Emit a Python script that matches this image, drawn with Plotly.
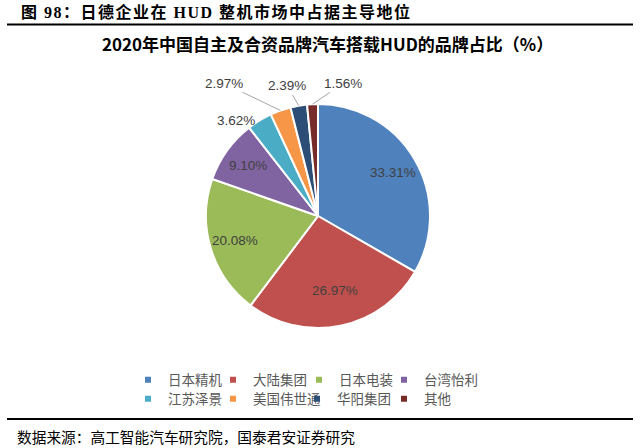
import math
import plotly.graph_objects as go

brands = ["日本精机", "大陆集团", "日本电装", "台湾怡利", "江苏泽景", "美国伟世通", "华阳集团", "其他"]
shares = [33.31, 26.97, 20.08, 9.10, 3.62, 2.97, 2.39, 1.56]
colors = ["#4F81BD", "#C0504D", "#9BBB59", "#8064A2", "#4BACC6", "#F79646", "#2C4D75", "#772C2A"]

header = "图 98：日德企业在 HUD 整机市场中占据主导地位"
title = "2020年中国自主及合资品牌汽车搭载HUD的品牌占比（%）"
source = "数据来源：高工智能汽车研究院，国泰君安证券研究"

# ---- style / layout constants (pixels) ----
W, H = 640, 448
cx, cy, r = 318, 216, 112
inside_frac = 0.77
# outside-label placement: (dx, dy, leader line?)
outside_style = {4: (-23.6, -9.7, False), 5: (-56.7, -27.2, True),
                 6: (-11.4, -19.7, True), 7: (30.8, -20.8, True)}
legend_text_x = [[168, 253, 339, 424], [168, 253, 337, 424]]
legend_row_y = [380, 399]
LABEL_FONT = dict(family="Liberation Sans, Arial", size=13.5, color="#404040")

fig = go.Figure(go.Pie(
    labels=brands,
    values=shares,
    textinfo="none",
    sort=False,
    direction="clockwise",
    rotation=0,
    marker=dict(colors=colors, line=dict(color="white", width=2)),
    domain=dict(x=[(cx - r) / W, (cx + r) / W], y=[(H - cy - r) / H, (H - cy + r) / H]),
    showlegend=False,
    hoverinfo="label+percent",
))

# legend entries (one small legend per entry so the grid matches the original)
legends = {}
for i, (b, c) in enumerate(zip(brands, colors)):
    key = "legend" if i == 0 else f"legend{i + 1}"
    row, col = divmod(i, 4)
    fig.add_trace(go.Scatter(
        x=[None], y=[None], mode="markers", name=b,
        marker=dict(symbol="square", size=6, color=c),
        legend=key, showlegend=True, hoverinfo="skip",
    ))
    legends[key] = dict(
        x=(legend_text_x[row][col] - 40) / W, xanchor="left",
        y=1 - legend_row_y[row] / H, yanchor="middle",
        bgcolor="rgba(0,0,0,0)", borderwidth=0, itemwidth=30,
        font=dict(size=13.5, color="#595959", family="Noto Sans CJK SC, sans-serif"),
    )

annotations = [
    dict(text="<span style='letter-spacing:1.5px'>" + header + "</span>",
         x=19 / W, y=1 - 12 / H, xref="paper", yref="paper",
         xanchor="left", yanchor="middle", showarrow=False,
         font=dict(size=16, color="black", family="Liberation Serif, Noto Sans CJK SC", weight="bold")),
    dict(text=title, x=327 / W, y=1 - 43 / H, xref="paper", yref="paper",
         xanchor="center", yanchor="middle", showarrow=False,
         font=dict(size=17, color="black", family="Noto Sans CJK SC", weight=600)),
    dict(text=source, x=15 / W, y=1 - 436 / H, xref="paper", yref="paper",
         xanchor="left", yanchor="middle", showarrow=False,
         font=dict(size=14.7, color="black", family="Noto Sans CJK SC")),
]

total = sum(shares)
cum = 0.0
for i, v in enumerate(shares):
    mid = (cum + v / 2) / total * 2 * math.pi
    cum += v
    label = f"{v:.2f}%"
    if i not in outside_style:
        px = cx + inside_frac * r * math.sin(mid)
        py = cy - inside_frac * r * math.cos(mid)
        annotations.append(dict(text=label, x=px / W, y=1 - py / H, xref="paper", yref="paper",
                                showarrow=False, font=LABEL_FONT))
        continue
    px = cx + r * math.sin(mid)
    py = cy - r * math.cos(mid)
    dx, dy, line = outside_style[i]
    if line:
        annotations.append(dict(
            text=label, x=px / W, y=1 - py / H, xref="paper", yref="paper",
            ax=dx, ay=dy, axref="pixel", ayref="pixel",
            showarrow=True, arrowhead=0, arrowwidth=1, arrowcolor="#A6A6A6", standoff=0,
            font=LABEL_FONT))
    else:
        annotations.append(dict(
            text=label, x=px / W, y=1 - py / H, xref="paper", yref="paper",
            xshift=dx, yshift=-dy, showarrow=False, font=LABEL_FONT))

fig.update_layout(
    width=W, height=H,
    margin=dict(l=0, r=0, t=0, b=0),
    paper_bgcolor="white",
    plot_bgcolor="white",
    font=dict(family="Noto Sans CJK SC, sans-serif", color="#404040"),
    xaxis=dict(visible=False),
    yaxis=dict(visible=False),
    annotations=annotations,
    shapes=[
        dict(type="line", xref="paper", yref="paper", x0=7 / W, x1=633 / W,
             y0=1 - 24.5 / H, y1=1 - 24.5 / H, line=dict(color="black", width=1.8)),
        dict(type="line", xref="paper", yref="paper", x0=7 / W, x1=633 / W,
             y0=1 - 419 / H, y1=1 - 419 / H, line=dict(color="black", width=1.8)),
    ],
    **legends,
)

fig.write_html(
    "out.html",
    config={"displayModeBar": False},
    post_script="document.body.style.margin='0';document.body.style.overflow='hidden';",
)
